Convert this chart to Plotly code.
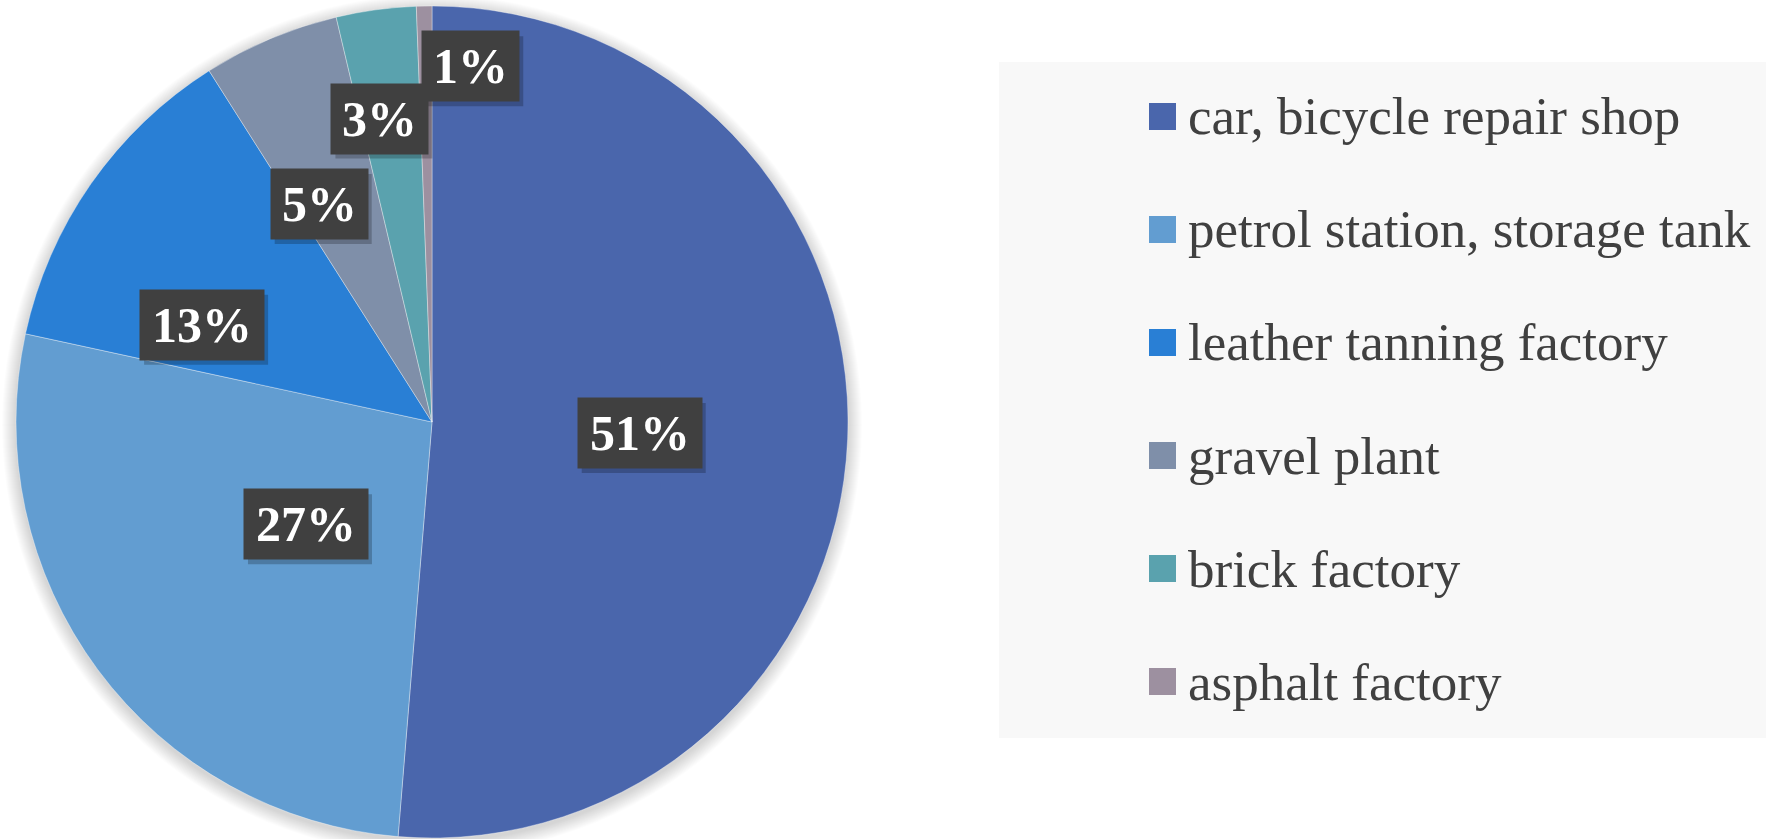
import math
import plotly.graph_objects as go

# Pollution sources and their share of sites
categories = [
    "car, bicycle repair shop",
    "petrol station, storage tank",
    "leather tanning factory",
    "gravel plant",
    "brick factory",
    "asphalt factory",
]
shares = [51.3, 27.1, 12.6, 5.3, 3.1, 0.6]

colors = ["#4A66AC", "#629DD1", "#297FD5", "#7F8FA9", "#5AA2AE", "#9D90A0"]

W, H = 1766, 839
CX, CY, R = 432, 422, 416          # pie centre and radius in pixels

# label placement: fraction of radius and angular nudge (degrees) per slice
label_rfrac = [0.50, 0.39, 0.60, 0.59, 0.74, 0.86]
label_dtheta = [0.7, -2.5, -12.0, -4.5, -2.0, 7.3]
BOX_H = 70


def px(x):
    return x / W


def py(y):
    return 1 - y / H


fig = go.Figure()
fig.add_trace(go.Pie(
    labels=categories,
    values=shares,
    sort=False,
    direction="clockwise",
    rotation=0,
    marker=dict(colors=colors, line=dict(color="rgba(255,255,255,0.45)", width=0.8)),
    textinfo="none",
    hoverinfo="label+percent",
    showlegend=False,
    domain=dict(x=[px(CX - R), px(CX + R)], y=[py(CY + R), py(CY - R)]),
))

shapes = []
# soft glow behind the pie
for i in range(1, 15):
    rr = R + i
    shapes.append(dict(
        type="circle", xref="paper", yref="paper", layer="below",
        x0=px(CX - rr), x1=px(CX + rr), y0=py(CY + 3 + rr), y1=py(CY + 3 - rr),
        fillcolor="rgba(0,0,0,0.012)", line=dict(width=0),
    ))

# legend panel
shapes.append(dict(
    type="rect", xref="paper", yref="paper", layer="below",
    x0=px(999), x1=1, y0=py(738), y1=py(62),
    fillcolor="#F8F8F8", line=dict(width=0),
))

annotations = []
LEG_TOP, LEG_STEP = 116.5, 113
for i, (name, col) in enumerate(zip(categories, colors)):
    yc = LEG_TOP + i * LEG_STEP
    shapes.append(dict(
        type="rect", xref="paper", yref="paper",
        x0=px(1149), x1=px(1176), y0=py(yc + 13.5), y1=py(yc - 13.5),
        fillcolor=col, line=dict(width=0),
    ))
    annotations.append(dict(
        text=name, xref="paper", yref="paper",
        x=px(1186), y=py(yc), xanchor="left", yanchor="middle",
        showarrow=False,
        font=dict(family="Liberation Serif", size=53, color="#404040"),
    ))

# percentage labels in dark boxes
total = sum(shares)
start = 0.0
for i, v in enumerate(shares):
    mid = start + v / total * 360 / 2
    start += v / total * 360
    theta = math.radians(mid + label_dtheta[i])
    r = R * label_rfrac[i]
    x = CX + r * math.sin(theta)
    y = CY - r * math.cos(theta)
    txt = f"{round(v / total * 100)}%"
    digits = len(txt) - 1
    bw = 70 + 27 * digits
    # drop shadow under the label box
    sx, sy = 4, 5
    shapes.append(dict(
        type="rect", xref="paper", yref="paper",
        x0=px(x - bw / 2 + sx), x1=px(x + bw / 2 + sx),
        y0=py(y + BOX_H / 2 + sy), y1=py(y - BOX_H / 2 + sy),
        fillcolor="rgba(0,0,0,0.22)", line=dict(width=0),
    ))
    annotations.append(dict(
        text=f"<b>{txt}</b>", xref="paper", yref="paper", x=px(x), y=py(y),
        xanchor="center", yanchor="middle", showarrow=False,
        width=bw, height=BOX_H, borderpad=0, bgcolor="#404040",
        font=dict(family="Liberation Serif", size=50, color="#FFFFFF"),
    ))

fig.update_layout(
    width=W, height=H,
    margin=dict(l=0, r=0, t=0, b=0),
    paper_bgcolor="#FFFFFF",
    plot_bgcolor="#FFFFFF",
    shapes=shapes,
    annotations=annotations,
    showlegend=False,
)

fig.write_html("out.html")
